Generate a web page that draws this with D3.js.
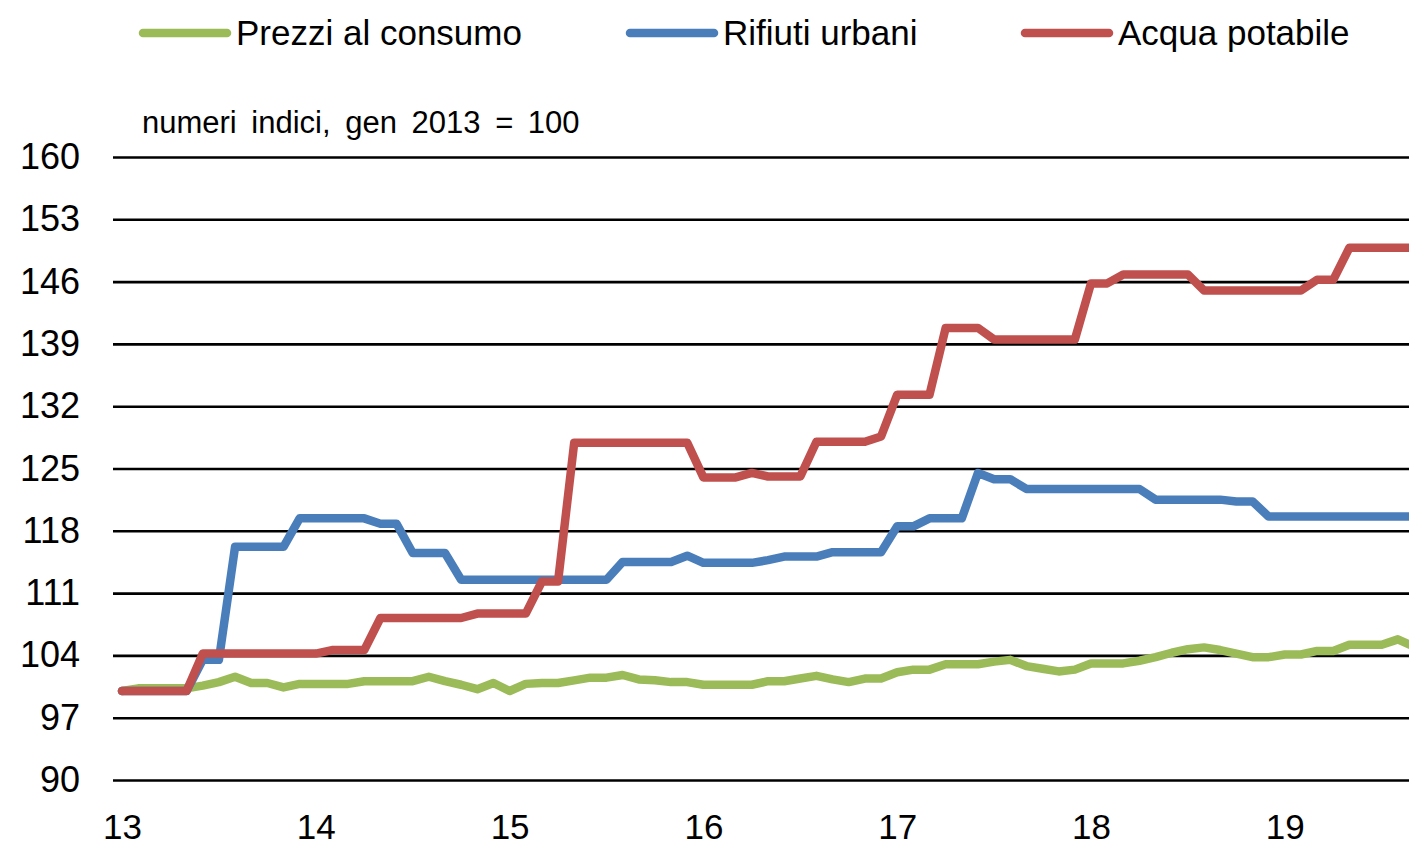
<!DOCTYPE html>
<html>
<head>
<meta charset="utf-8">
<script src="https://cdn.jsdelivr.net/npm/d3@7"></script>
<style>
  html, body { margin: 0; padding: 0; background: #fff; }
  svg { display: block; font-family: "Liberation Sans", Arial, sans-serif; }
</style>
</head>
<body>
<svg id="chart" width="1409" height="845"></svg>
<script>
// ---- data (monthly, Jan 2013 = index 0) ----
const seriesNames = ["Prezzi al consumo", "Rifiuti urbani", "Acqua potabile"];
const seriesColors = ["#9BBB59", "#4A7EBB", "#C0504D"];
const prezzi = [
  100.0,100.3,100.3,100.3,100.3,100.6,101.0,101.6,100.9,100.9,100.4,100.8,
  100.8,100.8,100.8,101.1,101.1,101.1,101.1,101.6,101.1,100.7,100.2,100.9,
  100.0,100.8,100.9,100.9,101.2,101.5,101.5,101.8,101.3,101.2,101.0,101.0,
  100.7,100.7,100.7,100.7,101.1,101.1,101.4,101.7,101.3,101.0,101.4,101.4,
  102.1,102.4,102.4,103.0,103.0,103.0,103.3,103.5,102.8,102.5,102.2,102.4,
  103.1,103.1,103.1,103.4,103.8,104.3,104.7,104.9,104.6,104.2,103.8,103.8,
  104.1,104.1,104.5,104.5,105.2,105.2,105.2,105.8,105.0
];
const rifiuti = [
  100,100,100,100,100,103.5,103.5,116.2,116.2,116.2,116.2,119.4,
  119.4,119.4,119.4,119.4,118.8,118.8,115.5,115.5,115.5,112.5,112.5,112.5,
  112.5,112.5,112.5,112.5,112.5,112.5,112.5,114.5,114.5,114.5,114.5,115.2,
  114.4,114.4,114.4,114.4,114.7,115.1,115.1,115.1,115.6,115.6,115.6,115.6,
  118.5,118.5,119.4,119.4,119.4,124.5,123.8,123.8,122.7,122.7,122.7,122.7,
  122.7,122.7,122.7,122.7,121.5,121.5,121.5,121.5,121.5,121.3,121.3,119.6,
  119.6,119.6,119.6,119.6,119.6,119.6,119.6,119.6,119.6
];
const acqua = [
  100,100,100,100,100,104.2,104.2,104.2,104.2,104.2,104.2,104.2,
  104.2,104.6,104.6,104.6,108.2,108.2,108.2,108.2,108.2,108.2,108.7,108.7,
  108.7,108.7,112.3,112.3,127.9,127.9,127.9,127.9,127.9,127.9,127.9,127.9,
  124.0,124.0,124.0,124.5,124.1,124.1,124.1,128.0,128.0,128.0,128.0,128.6,
  133.3,133.3,133.3,140.8,140.8,140.8,139.5,139.5,139.5,139.5,139.5,139.5,
  145.8,145.8,146.8,146.8,146.8,146.8,146.8,145.0,145.0,145.0,145.0,145.0,
  145.0,145.0,146.2,146.2,149.8,149.8,149.8,149.8,149.8
];
const xTickMonths = [0, 12, 24, 36, 48, 60, 72];
const xTickLabels = ["13", "14", "15", "16", "17", "18", "19"];
const yTicks = [90, 97, 104, 111, 118, 125, 132, 139, 146, 153, 160];
const subtitle = "numeri indici, gen 2013 = 100";

// ---- layout ----
const svg = d3.select("#chart");
const W = 1409, H = 845;
const plotLeft = 113, plotRight = 1409;
const x = d3.scaleLinear().domain([0, 80]).range([122, 1414]);
const y = d3.scaleLinear().domain([90, 160]).range([780, 157]);

// gridlines + y labels
const yAxis = d3.axisLeft(y).tickValues(yTicks).tickFormat(d3.format("d"))
  .tickSizeInner(-(plotRight - plotLeft)).tickSizeOuter(0).tickPadding(33);
const gy = svg.append("g").attr("transform", `translate(${plotLeft},0)`).call(yAxis);
gy.select(".domain").remove();
gy.selectAll(".tick line").attr("stroke", "#000").attr("stroke-width", 2.6);
gy.selectAll(".tick text").attr("font-size", 36).attr("fill", "#000")
  .attr("font-family", "Liberation Sans, Arial, sans-serif");

// x labels
const xAxis = d3.axisBottom(x).tickValues(xTickMonths)
  .tickFormat((d, i) => xTickLabels[i]).tickSize(0).tickPadding(34);
const gx = svg.append("g").attr("transform", `translate(0,780)`).call(xAxis);
gx.select(".domain").remove();
gx.selectAll(".tick text").attr("font-size", 35).attr("fill", "#000")
  .attr("font-family", "Liberation Sans, Arial, sans-serif");

// clip
svg.append("clipPath").attr("id", "clip").append("rect")
  .attr("x", plotLeft - 10).attr("y", 0).attr("width", plotRight - plotLeft + 10).attr("height", H);

const allSeries = [prezzi, rifiuti, acqua];
const line = d3.line().x((d, i) => x(i)).y(d => y(d));
const gl = svg.append("g").attr("clip-path", "url(#clip)");
allSeries.forEach((s, k) => {
  gl.append("path").datum(s).attr("d", line)
    .attr("fill", "none").attr("stroke", seriesColors[k])
    .attr("stroke-width", 8.5).attr("stroke-linejoin", "round").attr("stroke-linecap", "round");
});

// subtitle
svg.append("text").attr("x", 142).attr("y", 133).attr("font-size", 31)
  .attr("word-spacing", 6).attr("fill", "#000").text(subtitle);

// legend
const legendX = [143, 630, 1025];
seriesNames.forEach((name, k) => {
  svg.append("line").attr("x1", legendX[k]).attr("x2", legendX[k] + 84)
    .attr("y1", 33).attr("y2", 33).attr("stroke", seriesColors[k])
    .attr("stroke-width", 8.5).attr("stroke-linecap", "round");
  svg.append("text").attr("x", legendX[k] + 93).attr("y", 45)
    .attr("font-size", 35).attr("fill", "#000").text(name);
});
</script>
</body>
</html>
